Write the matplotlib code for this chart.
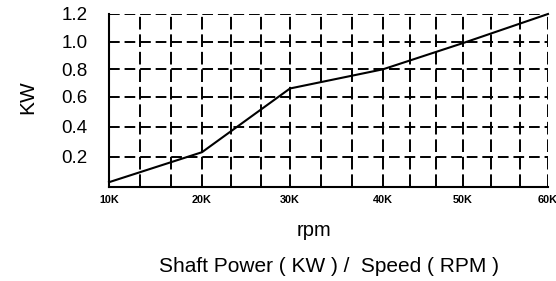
import numpy as np
import matplotlib
matplotlib.use("Agg")
import matplotlib.pyplot as plt

# Data
rpm = [10000, 20000, 30000, 40000, 50000, 60000]
kw = [0.03, 0.23, 0.66, 0.80, 0.99, 1.20]
x_tick_vals = [10000, 20000, 30000, 40000, 50000, 60000]
x_tick_labels = ["10K", "20K", "30K", "40K", "50K", "60K"]
y_tick_vals = [0.2, 0.4, 0.6, 0.8, 1.0, 1.2]
y_tick_labels = ["0.2", "0.4", "0.6", "0.8", "1.0", "1.2"]

# Non-uniform axis scales (as drawn in the original chart)
x_knots = np.array([10000, 20000, 30000, 40000, 50000, 60000], float)
x_pos = np.array([0.0, 93.0, 181.0, 274.0, 354.0, 439.0])
y_knots = np.array([0.0, 0.2, 0.4, 0.6, 0.8, 1.0, 1.2])
y_pos = np.array([0.0, 30.0, 60.0, 90.0, 117.4, 145.0, 172.7])

def fx(v):
    return np.interp(v, x_knots, x_pos)
def ix(v):
    return np.interp(v, x_pos, x_knots)
def fy(v):
    return np.interp(v, y_knots, y_pos)
def iy(v):
    return np.interp(v, y_pos, y_knots)

plt.rcParams['font.family'] = ['Liberation Sans', 'DejaVu Sans']

fig = plt.figure(figsize=(5.56, 2.81), dpi=100)
ax = fig.add_axes([109/556, 1-186.7/281, (548-109)/556, (186.7-14)/281])
ax.set_xscale('function', functions=(fx, ix))
ax.set_yscale('function', functions=(fy, iy))
ax.set_xlim(10000, 60000)
ax.set_ylim(0, 1.2)

ax.plot(rpm, kw, color='black', lw=1.5, zorder=3, clip_on=False)

# grid
grid_x = [10000 + k * 10000/3 for k in range(1, 16)]
for gx in grid_x:
    ax.axvline(gx, color='black', lw=1.4, linestyle=(0, (6.5, 2.5)), zorder=1)
for gy in y_tick_vals:
    ax.axhline(gy, color='black', lw=1.4, linestyle=(0, (5.5, 2.5)), zorder=1)

for s in ['top', 'right']:
    ax.spines[s].set_visible(False)
for s in ['left', 'bottom']:
    ax.spines[s].set_linewidth(1.5)

ax.set_xticks(x_tick_vals)
ax.set_xticklabels(x_tick_labels, fontsize=7.8, fontweight='bold')
ax.set_yticks(y_tick_vals)
ax.set_yticklabels(y_tick_labels, fontsize=13.5)
ax.minorticks_off()
ax.tick_params(axis='both', length=0)
ax.tick_params(axis='x', pad=6)
ax.tick_params(axis='y', pad=15.5)

fig.text(28/556, 1-97/281, "KW", rotation=90, fontsize=15, ha='center', va='center')
fig.text(314/556, 1-230/281, "rpm", fontsize=14.5, ha='center', va='center')
fig.text(329/556, 1-267/281, "Shaft Power ( KW ) /  Speed ( RPM )", fontsize=15, ha='center', va='center')

fig.savefig("out.png", dpi=100)
